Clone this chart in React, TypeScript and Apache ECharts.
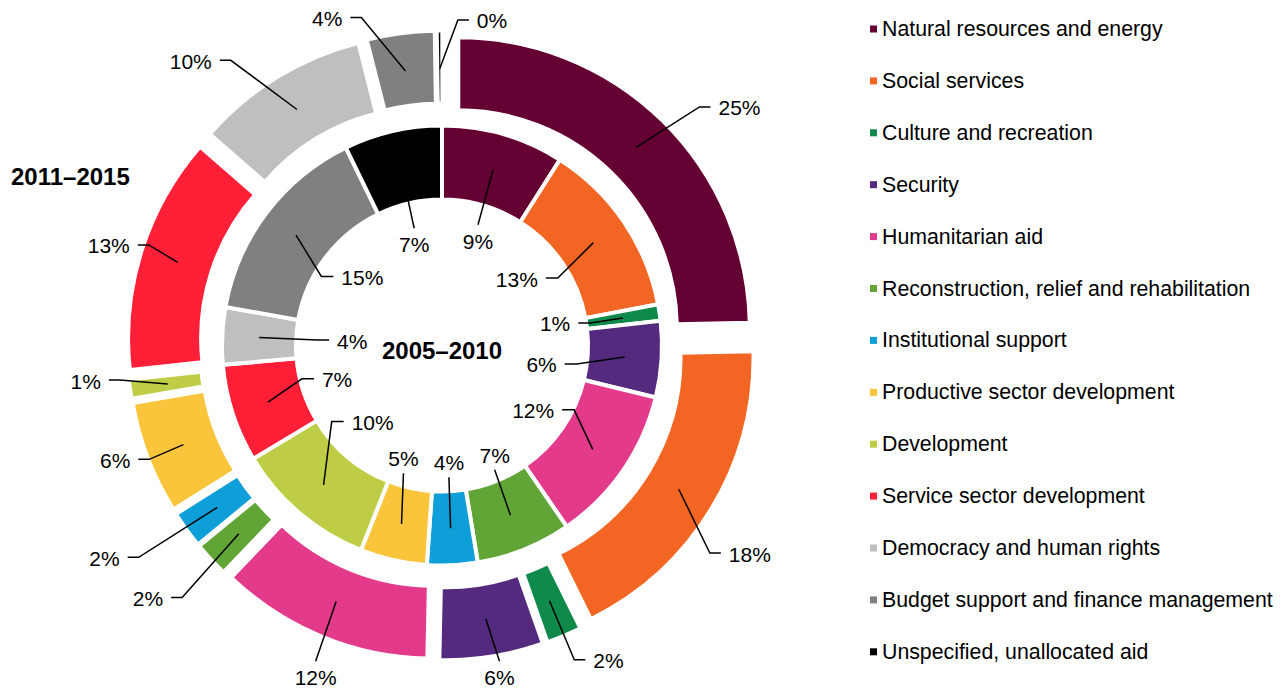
import React, { useEffect, useRef } from 'react';
import * as echarts from 'echarts';

// ---------- data ----------
const categories = [
  'Natural resources and energy',
  'Social services',
  'Culture and recreation',
  'Security',
  'Humanitarian aid',
  'Reconstruction, relief and rehabilitation',
  'Institutional support',
  'Productive sector development',
  'Development',
  'Service sector development',
  'Democracy and human rights',
  'Budget support and finance management',
  'Unspecified, unallocated aid',
];
const colors = [
  '#650033', '#F26522', '#0E8A4A', '#542A7E', '#E33A8B', '#62A537', '#0E9FD8',
  '#FAC53B', '#BECD45', '#FF1F36', '#BFBFBF', '#808080', '#000000',
];
// inner ring (percent share)
const values2005_2010 = [9.0, 13.0, 1.2, 5.6, 11.6, 7.0, 3.7, 4.9, 10.4, 7.2, 4.2, 15.0, 7.2];
// outer ring (percent share)
const values2011_2015 = [24.6, 18.0, 1.9, 5.7, 11.8, 1.9, 2.0, 6.2, 1.0, 13.1, 9.6, 3.7, 0.25];
const innerTitle = '2005–2010';
const outerTitle = '2011–2015';

// ---------- layout ----------
const FONT = '"Liberation Sans", Arial, Helvetica, sans-serif';
const CX = 442;
const CY = 345.5;
const EXPLODE = 24;
const INNER_R: [number, number] = [146, 220];
const OUTER_R: [number, number] = [218.5, 290.5];

// label leader-line layout tweaks (elbow radius / angle nudge, vertical style)
const innerElbowR = [126, 134, 150, 136, 147, 135, 132, 133.5, 134, 144, 125, 139, 120.5];
const innerNudge = [0.4, 4, 0, 4.2, -8.6, -1, -0.3, 4, 15.1, 4.6, 0, -7.3, -0.4];
const innerVertical = [true, false, false, false, false, true, true, true, false, false, false, false, true];
const outerElbowR = [327, 315, 317, 297, 316, 338, 346, 290, 300, 286, 331, 314, 302];
const outerNudge = [3, 7, 0, -1.3, -0.7, -1.4, 0.9, -0.3, 2, 1.6, -5.3, -6.7, 3.5];
const outerVertical = [false, false, false, true, true, false, false, false, false, false, false, false, false];

const rad = (d: number) => (d * Math.PI) / 180;
const dirOf = (deg: number) => [Math.sin(rad(deg)), -Math.cos(rad(deg))];

function midAngles(vals: number[]) {
  const total = vals.reduce((a, b) => a + b, 0);
  let acc = 0;
  return vals.map((v) => {
    const m = ((acc + v / 2) / total) * 360;
    acc += v;
    return m;
  });
}

const innerMid = midAngles(values2005_2010);
const outerMid = midAngles(values2011_2015);

function makeLayout(
  mids: number[],
  centerOf: (i: number) => number[],
  startR: number,
  elbowR: number[],
  nudge: number[],
  vertical: boolean[],
  towardCenter: boolean,
  horiz: number,
  gap: number
) {
  return (p: any) => {
    const i = p.dataIndex;
    const c = centerOf(i);
    const th = mids[i];
    const a = dirOf(th);
    const p0 = [c[0] + startR * a[0], c[1] + startR * a[1]];
    const b = dirOf(th + nudge[i]);
    const r = elbowR[i];
    const p1 = [c[0] + r * b[0], c[1] + r * b[1]];
    if (vertical[i]) {
      const upper = Math.cos(rad(th)) > 0;
      const below = towardCenter ? upper : !upper;
      return {
        x: p1[0],
        y: below ? p1[1] + 6 : p1[1] - 4,
        align: 'center',
        verticalAlign: below ? 'top' : 'bottom',
        labelLinePoints: [p0, p1, p1],
      };
    }
    const right = b[0] > 0;
    const dir = towardCenter ? (right ? -1 : 1) : right ? 1 : -1;
    const p2 = [p1[0] + horiz * dir, p1[1]];
    return {
      x: p2[0] + gap * dir,
      y: p2[1] + 1,
      align: dir < 0 ? 'right' : 'left',
      verticalAlign: 'middle',
      labelLinePoints: [p0, p1, p2],
    };
  };
}

const innerLayout = makeLayout(
  innerMid, () => [CX, CY], 183, innerElbowR, innerNudge, innerVertical, true, 12, 8
);
const outerLayout = makeLayout(
  outerMid,
  (i) => {
    const d = dirOf(outerMid[i]);
    return [CX + EXPLODE * d[0], CY + EXPLODE * d[1]];
  },
  253, outerElbowR, outerNudge, outerVertical, false, 11, 8
);

const pct = (p: any) => Math.round(p.value) + '%';
const labelStyle = { fontSize: 21, color: '#000', fontFamily: FONT };

function ringSeries(name: string, values: number[], radius: [number, number], border: number, explode: number) {
  return {
    type: 'pie',
    name,
    center: [CX, CY],
    radius,
    startAngle: 90,
    clockwise: true,
    avoidLabelOverlap: false,
    selectedMode: explode > 0 ? 'multiple' : false,
    selectedOffset: explode,
    silent: true,
    z: 2,
    emphasis: { disabled: true },
    itemStyle: { borderColor: '#fff', borderWidth: border },
    label: { show: false },
    labelLine: { show: false },
    data: categories.map((n, i) => ({
      name: n,
      value: values[i],
      selected: explode > 0,
      itemStyle: { color: colors[i] },
    })),
  };
}

function labelSeries(name: string, values: number[], radius: [number, number], layout: any) {
  return {
    type: 'pie',
    name,
    center: [CX, CY],
    radius,
    startAngle: 90,
    clockwise: true,
    avoidLabelOverlap: false,
    selectedMode: false,
    silent: true,
    legendHoverLink: false,
    z: 5,
    emphasis: { disabled: true },
    itemStyle: { color: 'rgba(0,0,0,0)', borderWidth: 0 },
    label: { show: true, position: 'outside', formatter: pct, ...labelStyle },
    labelLine: { show: true, smooth: false, lineStyle: { color: '#000', width: 1.5 } },
    labelLayout: layout,
    data: categories.map((n, i) => ({
      name: n,
      value: values[i],
      itemStyle: { color: 'rgba(0,0,0,0)' },
    })),
  };
}

export default function App() {
  const ref = useRef<HTMLDivElement>(null);
  useEffect(() => {
    const chart = echarts.init(ref.current!, null, { renderer: 'svg' });
    const option: any = {
      animation: false,
      backgroundColor: '#fff',
      legend: {
        orient: 'vertical',
        left: 865,
        top: 13,
        icon: 'rect',
        itemWidth: 7,
        itemHeight: 7,
        itemGap: 29.9,
        selectedMode: false,
        itemStyle: { borderWidth: 0 },
        textStyle: { fontSize: 21.3, lineHeight: 22, color: '#000', fontFamily: FONT },
        data: categories,
      },
      graphic: [
        {
          type: 'text',
          left: 11,
          top: 164,
          style: { text: outerTitle, font: `bold 24px ${FONT}`, fill: '#000' },
        },
        {
          type: 'text',
          x: CX,
          y: 350,
          style: {
            text: innerTitle,
            font: `bold 24px ${FONT}`,
            fill: '#000',
            align: 'center',
            verticalAlign: 'middle',
            textAlign: 'center',
            textVerticalAlign: 'middle',
          },
        },
      ],
      series: [
        ringSeries(innerTitle, values2005_2010, INNER_R, 4, 0),
        ringSeries(outerTitle, values2011_2015, OUTER_R, 3, EXPLODE),
        labelSeries(innerTitle + ' labels', values2005_2010, INNER_R, innerLayout),
        labelSeries(outerTitle + ' labels', values2011_2015, OUTER_R, outerLayout),
      ],
    };
    chart.setOption(option);
    return () => chart.dispose();
  }, []);
  return (
    <div
      ref={ref}
      style={{ position: 'fixed', left: 0, top: 0, width: 1288, height: 692, background: '#fff' }}
    />
  );
}
